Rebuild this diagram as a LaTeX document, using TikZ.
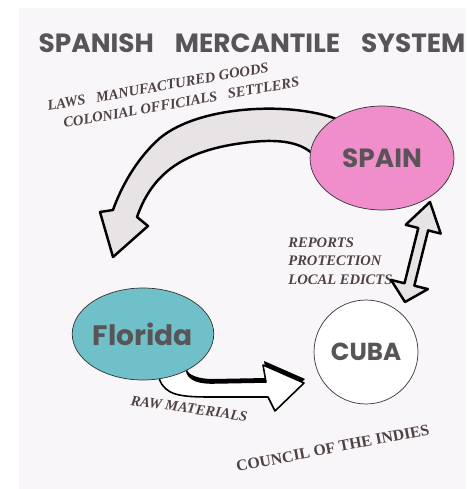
\documentclass[tikz,border=0pt]{standalone}
\usepackage{fontspec}
\usepackage{tikz}
\usetikzlibrary{shapes.geometric}
\newfontfamily\gothic{Poppins}
\newfontfamily\timesfont{Liberation Serif}
\definecolor{paper}{RGB}{249,246,249}
\definecolor{ink}{RGB}{88,84,88}
\definecolor{brownink}{RGB}{80,66,68}
\definecolor{spainpink}{RGB}{240,142,204}
\definecolor{floridateal}{RGB}{112,192,202}
\definecolor{arrowgray}{RGB}{232,228,230}
\pgfdeclarelayer{back}
\pgfsetlayers{back,main}

\begin{document}
\begin{tikzpicture}[x=0.02cm,y=-0.02cm,
    place/.style={draw=black!80,thin,inner sep=0pt,font=\gothic\bfseries,text=ink},
    wares/.style={font=\timesfont\bfseries\itshape\fontsize{8.3}{9}\selectfont,text=brownink,inner sep=0pt},
    block/.style={fill=arrowgray,draw=black,line width=1.4pt,line join=round}]
    \useasboundingbox (0,0) rectangle (466,489);

    \node[font=\gothic\bfseries\fontsize{15}{16}\selectfont,text=ink] (title) at (252,43)
      {SPANISH\hspace{12pt}MERCANTILE\hspace{12pt}SYSTEM};

    \node[place,ellipse,fill=spainpink,minimum width=2.88cm,minimum height=2.08cm,
      font=\gothic\bfseries\fontsize{15}{16}\selectfont] (spain) at (382,158) {SPAIN};
    \node[place,ellipse,fill=floridateal,minimum width=2.68cm,minimum height=1.84cm,
      font=\gothic\bfseries\fontsize{16}{17}\selectfont] (florida) at (143,334) {Florida};
    \node[place,circle,fill=white,minimum size=2.08cm,
      font=\gothic\bfseries\fontsize{14}{15}\selectfont] (cuba) at (366,352) {CUBA};

    % goods going out from spain
    \node[wares,anchor=base west,rotate=10] (laws) at (48,111) {LAWS\ \ \ MANUFACTURED GOODS};
    \node[wares,anchor=base west,rotate=10] (officials) at (64,128) {COLONIAL OFFICIALS\ \ \ SETTLERS};

    \node[wares,anchor=base west] (reports) at (288,247) {REPORTS};
    \node[wares,anchor=base west] (protection) at (288,265) {PROTECTION};
    \node[wares,anchor=base west] (edicts) at (288,284) {LOCAL EDICTS};

    \node[wares,anchor=base west,rotate=-8] (raw) at (130,405) {RAW MATERIALS};
    \node[font=\timesfont\bfseries\fontsize{9}{10}\selectfont,text=brownink,inner sep=0pt,
      anchor=base west,rotate=11] (council) at (237,472) {COUNCIL OF THE INDIES};

    \begin{pgfonlayer}{back}
      \fill[paper] (19,8) rectangle (466,489);
      % spain to florida
      \draw[block] (spain.140)
        .. controls (290,102) and (200,105) .. (160,138)
        .. controls (135,160) and (120,190) .. (113,210)
        -- (100,212) -- (113,257) -- (148,226) -- (137,217)
        .. controls (150,180) and (175,155) .. (230,145)
        .. controls (270,138) and (295,140) .. (spain.175)
        -- (spain.center) -- cycle;
      % florida to cuba
      \fill[black,shift={(1,-4)}] (florida.-70)
        .. controls (165,395) and (180,397) .. (210,397)
        -- (268,397) -- (275,411) -- (304,383) -- (263,365) -- (266,382) -- (212,383)
        .. controls (195,383) and (188,378) .. (florida.-40) -- (florida.center) -- cycle;
      \draw[fill=white,draw=black,line width=0.9pt,line join=round] (florida.-70)
        .. controls (165,395) and (180,397) .. (210,397)
        -- (268,397) -- (275,411) -- (304,383) -- (263,365) -- (266,382) -- (212,383)
        .. controls (195,383) and (188,378) .. (florida.-40) -- (florida.center) -- cycle;
    \end{pgfonlayer}

    % cuba and spain
    \draw[block] (430,202) -- (440.7,233.6) -- (428.1,230.4) -- (414.3,285.7) -- (427.9,289.1)
      -- (405,302) -- (391,279.9) -- (404.5,283.3) -- (418.3,228) -- (405.7,224.8) -- cycle;
  \end{tikzpicture}
\end{document}
